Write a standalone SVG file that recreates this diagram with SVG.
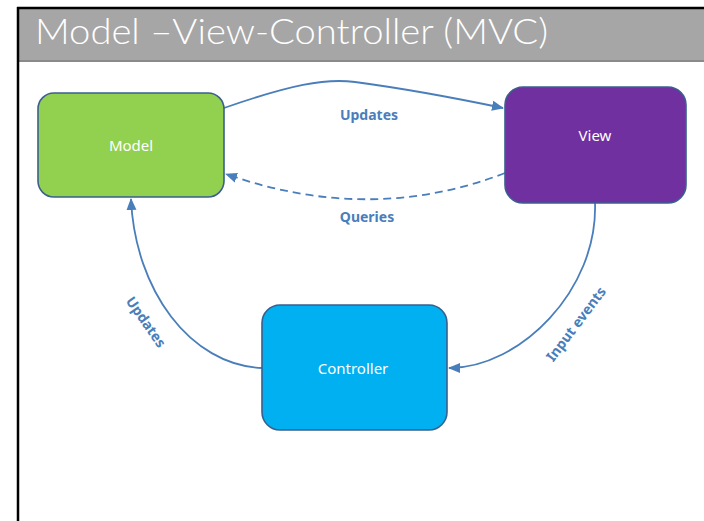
<svg xmlns="http://www.w3.org/2000/svg" width="704" height="521" viewBox="0 0 704 521">
  <style>
    .node { stroke: #3a5f8f; stroke-width: 1.6; }
    .nlabel { font-family: "Noto Sans", "Liberation Sans", sans-serif; font-size: 15px; fill: #ffffff; text-anchor: middle; }
    .conn { fill: none; stroke: #4a7ebb; stroke-width: 1.8; }
    .clabel { font-family: "Noto Sans", "Liberation Sans", sans-serif; font-size: 14px; font-weight: bold; fill: #4a7ebb; text-anchor: middle; }
  </style>
  <defs>
    <marker id="arrow" markerUnits="userSpaceOnUse" markerWidth="12" markerHeight="12" viewBox="0 0 12 12" refX="11" refY="6" orient="auto">
      <path d="M0,1 L12,6 L0,11 Z" fill="#4a7ebb"/>
    </marker>
  </defs>
  <rect x="0" y="0" width="704" height="521" fill="#ffffff"/>
  <!-- title bar -->
  <rect x="18" y="8" width="686" height="53" fill="#a6a6a6"/>
  <line x1="18" y1="61" x2="704" y2="61" stroke="#8a8a8a" stroke-width="2"/>
  <line x1="17" y1="8" x2="704" y2="8" stroke="#000000" stroke-width="2.5"/>
  <line x1="18" y1="7" x2="18" y2="521" stroke="#000000" stroke-width="2.5"/>
  <text x="35" y="44" font-family="Lato, 'Open Sans', 'Liberation Sans', sans-serif" font-weight="300" font-size="36" fill="#ffffff" textLength="513" lengthAdjust="spacingAndGlyphs">Model –View-Controller (MVC)</text>

  <g id="connectors">
    <path class="conn" d="M224,108 C290,85 325,78 355,82 C400,88 460,99 503,108" marker-end="url(#arrow)"/>
    <path class="conn" d="M505,173 Q370,225 226,174" stroke-dasharray="8,5" marker-end="url(#arrow)"/>
    <path class="conn" d="M262,368 C190,365 135,290 131,199" marker-end="url(#arrow)"/>
    <path class="conn" d="M595,203 C598,290 520,368 449,368" marker-end="url(#arrow)"/>
    <text class="clabel" x="369" y="120">Updates</text>
    <text class="clabel" x="367" y="222">Queries</text>
    <text class="clabel" transform="translate(146,322) rotate(55)" x="0" y="5">Updates</text>
    <text class="clabel" transform="translate(576,324) rotate(-53)" x="0" y="5">Input events</text>
  </g>

  <g id="model">
    <rect class="node" x="38" y="93" width="186" height="104" rx="16" fill="#92d050"/>
    <text class="nlabel" x="131" y="151">Model</text>
  </g>
  <g id="view">
    <rect class="node" x="505" y="87" width="181" height="116" rx="18" fill="#7030a0"/>
    <text class="nlabel" x="595" y="141">View</text>
  </g>
  <g id="controller">
    <rect class="node" x="262" y="305" width="185" height="125" rx="18" fill="#00b0f0"/>
    <text class="nlabel" x="353" y="374">Controller</text>
  </g>
</svg>
